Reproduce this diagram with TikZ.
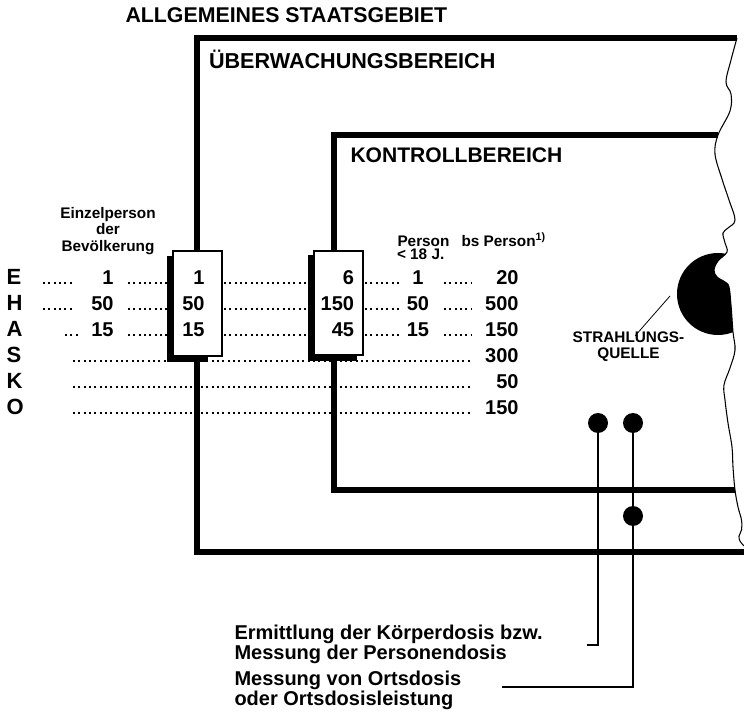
\documentclass[tikz,border=0pt]{standalone}
\usepackage{fontspec}
\setmainfont{Liberation Sans}
\usetikzlibrary{positioning}

\newcommand\tightlines{\lineskiplimit=-20pt\relax}

\tikzset{every picture/.style={line width=0.75pt}}

\begin{document}
\begin{tikzpicture}[x=0.75pt,y=0.75pt,yscale=-1,xscale=1,
  frame/.style={line width=4.5pt, line cap=butt, line join=miter},
  leader/.style={line width=1.5pt, dash pattern=on 1.5pt off 2.5pt},
  thinline/.style={line width=1pt},
  dosebox/.style={draw, line width=1.1pt, fill=white},
  zonelabel/.style={font=\fontsize{15.8}{18}\selectfont\bfseries, inner sep=0pt, anchor=base west},
  rowletter/.style={font=\fontsize{16.5}{18}\selectfont\bfseries, inner sep=0pt, anchor=base west},
  num/.style={font=\fontsize{15}{18}\selectfont\bfseries, inner sep=0pt},
  smalllabel/.style={font=\fontsize{11.5}{13}\selectfont\bfseries, inner sep=0pt, anchor=base},
  notelabel/.style={inner sep=0pt, anchor=north west, align=left, font=\fontsize{15}{14.5}\selectfont\bfseries\tightlines},
  measpoint/.style={circle, fill=black, inner sep=0pt, minimum size=15pt}
]
\path[use as bounding box] (0,0) rectangle (744,713);

%Dotted leaders
\foreach \y/\a/\b in {283/43/75, 309/43/75, 335/65/80}{
  \draw[leader] (\a,\y) -- (\b,\y);
  \draw[leader] (128,\y) -- (167,\y);
  \draw[leader] (224,\y) -- (307,\y);
  \draw[leader] (365,\y) -- (401,\y);
  \draw[leader] (444,\y) -- (472,\y);
}
\foreach \y in {361,387,413}
  \draw[leader] (73,\y) -- (472,\y);

%Wavy cut edge
\draw[line width=0.8pt] plot[smooth, tension=0.6] coordinates {(737,38) (731,60) (726,82) (731,94) (730,111) (718,135) (715,154) (722,179) (729,200) (735,220) (728,228) (723,233) (725,243) (727,252) (718,261) (714,270) (717,277) (725,282) (729,287) (731,305) (733,332) (735,350) (730,368) (724,385) (725,400) (728,423) (732,447) (733,467) (735,490) (738,507) (741.5,520) (741.5,530) (739,536) (740,541) (744,546)};

%Radiation source
\begin{scope}
  \clip plot[smooth, tension=0.6] coordinates {(735,220) (728,228) (723,233) (725,243) (727,252) (718,261) (714,270) (717,277) (725,282) (729,287) (731,305) (733,332) (735,350)} -- (640,350) -- (640,220) -- cycle;
  \fill (718,294) circle (41);
\end{scope}

%Areas
\draw[frame] (737,38) -- (196.5,38) -- (196.5,552) -- (744,552);
\draw[frame] (718,135) -- (334,135) -- (334,490) -- (735,490);

%Dose boxes with shadow
\fill (167,256) rectangle (208,362);
\draw[dosebox] (173,251) rectangle (222,356);
\fill (308,255) rectangle (357,361);
\draw[dosebox] (314,251) rectangle (363,355);

% Text Nodes
\node[zonelabel, font=\fontsize{16}{18}\selectfont\bfseries] (staat) at (125,23) {ALLGEMEINES STAATSGEBIET};
\node[zonelabel, font=\fontsize{16.2}{18}\selectfont\bfseries] (ueber) at (208.5,69) {ÜBERWACHUNGSBEREICH};
\node[zonelabel] (kontr) at (350,163) {KONTROLLBEREICH};

\node[smalllabel] (einzA) at (108,218.3) {Einzelperson};
\node[smalllabel] (einzB) at (108,235) {der};
\node[smalllabel] (einzC) at (108,251.7) {Bevölkerung};

\node[smalllabel, anchor=base west] (jungA) at (397,246.7) {Person};
\node[smalllabel, anchor=base west] (jungB) at (396.5,260) {< 18 J.};
\node[smalllabel, anchor=base west] (bsp) at (461,246.7) {bs Person\textsuperscript{1)}};

\foreach \r/\y in {E/285, H/311, A/337, S/363, K/389, O/415}
  \node[rowletter] (row\r) at (6,\y) {\r};

\foreach \r/\y/\a/\b/\c/\d/\e in {E/285/1/1/6/1/20, H/311/50/50/150/50/500, A/337/15/15/45/15/150}{
  \node[num, anchor=base east] (\r bev) at (114,\y) {\a};
  \node[num, anchor=base east] (\r ueb) at (205,\y) {\b};
  \node[num, anchor=base east] (\r kon) at (354.5,\y) {\c};
  \node[num, anchor=base] (\r jung) at (418,\y) {\d};
  \node[num, anchor=base east] (\r bsp) at (519,\y) {\e};
}
\foreach \r/\y/\e in {S/363/300, K/389/50, O/415/150}
  \node[num, anchor=base east] (\r bsp) at (519,\y) {\e};

\node[smalllabel] (quelleA) at (628.5,343) {STRAHLUNGS-};
\node[smalllabel] (quelleB) at (628.5,358.5) {QUELLE};
\coordinate (qtip) at (670,296);
\draw[line width=0.6pt] ([xshift=5pt, yshift=3pt]quelleA.north) -- (qtip);

%Measuring points
\node[measpoint] (koerp) at (598,423) {};
\node[measpoint] (ortA) at (633,423) {};
\node[measpoint] (ortB) at (633,516) {};

\node[notelabel] (noteKoerp) at (234,625) {Ermittlung der Körperdosis bzw.\\Messung der Personendosis};
\node[notelabel] (noteOrt) at (234,671) {Messung von Ortsdosis\\oder Ortsdosisleistung};

\coordinate (koerpK) at (598,645);
\coordinate (koerpE) at (587,645);
\coordinate (ortK) at (633,687);
\coordinate (ortE) at (502,687);
\draw[thinline] (koerp.center) -- (koerpK) -- (koerpE);
\draw[thinline] (ortA.center) -- (ortB.center) -- (ortK) -- (ortE);

\end{tikzpicture}
\end{document}
